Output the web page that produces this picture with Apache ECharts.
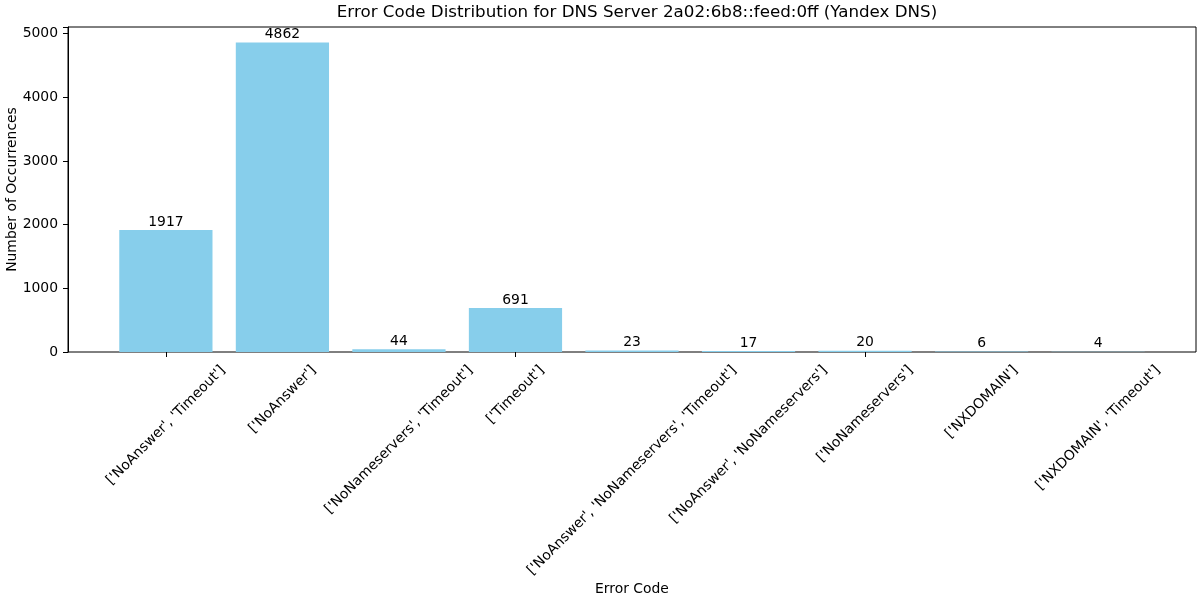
<!DOCTYPE html>
<html>
<head>
<meta charset="utf-8">
<style>
    html, body { margin: 0; padding: 0; background: #fff; }
    #chart { width: 1200px; height: 600px; }
</style>
<script src="https://cdn.jsdelivr.net/npm/echarts@6/dist/echarts.min.js"></script>
</head>
<body>
<div id="chart"></div>
<script>
const errorCodes = [
    "['NoAnswer', 'Timeout']",
    "['NoAnswer']",
    "['NoNameservers', 'Timeout']",
    "['Timeout']",
    "['NoAnswer', 'NoNameservers', 'Timeout']",
    "['NoAnswer', 'NoNameservers']",
    "['NoNameservers']",
    "['NXDOMAIN']",
    "['NXDOMAIN', 'Timeout']",
];
const occurrences = [1917, 4862, 44, 691, 23, 17, 20, 6, 4];
const yTicks = [0, 1000, 2000, 3000, 4000, 5000];

const FONT = '"DejaVu Sans", sans-serif';
const LABEL_SIZE = 13.9;
const LINE_H = 16;

const measure = document.createElement('canvas').getContext('2d');
measure.font = LABEL_SIZE + 'px ' + FONT;

const yMax = Math.max(...occurrences) * 1.05;

// frame: 68..1196, data range -0.84..8.84 -> category bands of ~116.5px
const frame = {left: 68, right: 4, top: 27, bottom: 248};
const unit = (1200 - frame.left - frame.right) / 9.68;
const barsLeft = frame.left + 0.84 * unit - unit / 2;
const barsRight = frame.right + 0.84 * unit - unit / 2;

// matplotlib centres the bbox of a rotated label on its tick,
// so the top-right corner of the text sits right of the tick
function renderTickLabel(params, api) {
    const code = errorCodes[api.value(0)];
    const pt = api.coord([api.value(0), 0]);
    const width = measure.measureText(code).width;
    return {
        type: 'text',
        x: pt[0] + Math.SQRT1_2 * (width - LINE_H) / 2,
        y: pt[1] + 10.5,
        rotation: Math.PI / 4,
        style: {
            text: code,
            fontFamily: FONT,
            fontSize: LABEL_SIZE,
            lineHeight: LINE_H,
            fill: '#000',
            align: 'right',
            verticalAlign: 'top',
        },
    };
}

const chart = echarts.init(document.getElementById('chart'), null, {renderer: 'canvas'});

chart.setOption({
    animation: false,
    backgroundColor: '#fff',
    textStyle: {fontFamily: FONT, color: '#000'},
    title: {
        text: 'Error Code Distribution for DNS Server 2a02:6b8::feed:0ff (Yandex DNS)',
        left: 632,
        textAlign: 'center',
        top: -1,
        textStyle: {fontFamily: FONT, fontSize: 16.7, fontWeight: 'normal', color: '#000'},
    },
    grid: [
        {...frame, show: true, borderColor: '#000', borderWidth: 1, outerBoundsMode: 'none', containLabel: false},
        {left: barsLeft, right: barsRight, top: frame.top, bottom: frame.bottom, outerBoundsMode: 'none', containLabel: false},
    ],
    xAxis: [
        {
            type: 'value',
            gridIndex: 0,
            min: 0,
            max: 1,
            name: 'Error Code',
            nameLocation: 'middle',
            nameGap: 230,
            nameMoveOverlap: false,
            nameTextStyle: {fontFamily: FONT, fontSize: LABEL_SIZE, color: '#000'},
            axisLine: {show: false},
            axisTick: {show: false},
            axisLabel: {show: false},
            splitLine: {show: false},
        },
        {
            type: 'category',
            gridIndex: 1,
            data: errorCodes,
            axisLine: {show: false},
            axisTick: {show: true, alignWithLabel: true, length: 5, lineStyle: {color: '#000'}},
            axisLabel: {show: false},
            splitLine: {show: false},
        },
    ],
    yAxis: [
        {
            type: 'value',
            gridIndex: 0,
            min: 0,
            max: yMax,
            interval: 1000,
            name: 'Number of Occurrences',
            nameLocation: 'middle',
            nameGap: 49,
            nameMoveOverlap: false,
            nameTextStyle: {fontFamily: FONT, fontSize: LABEL_SIZE, color: '#000'},
            axisLine: {show: true, lineStyle: {color: '#000'}},
            axisTick: {show: true, length: 5, lineStyle: {color: '#000'}},
            axisLabel: {
                margin: 10,
                fontFamily: FONT,
                fontSize: LABEL_SIZE,
                color: '#000',
                formatter: v => (yTicks.includes(v) ? String(v) : ''),
            },
            splitLine: {show: false},
        },
        {
            type: 'value',
            gridIndex: 1,
            min: 0,
            max: yMax,
            show: false,
        },
    ],
    series: [
        {
            type: 'bar',
            xAxisIndex: 1,
            yAxisIndex: 1,
            data: occurrences,
            barWidth: 0.8 * unit,
            itemStyle: {color: '#87CEEB'},
            label: {
                show: true,
                position: 'top',
                distance: 0,
                fontFamily: FONT,
                fontSize: LABEL_SIZE,
                lineHeight: LINE_H,
                color: '#000',
            },
        },
        {
            type: 'custom',
            xAxisIndex: 1,
            yAxisIndex: 1,
            clip: false,
            silent: true,
            data: errorCodes.map((code, i) => [i, 0]),
            renderItem: renderTickLabel,
        },
    ],
});
</script>
</body>
</html>
